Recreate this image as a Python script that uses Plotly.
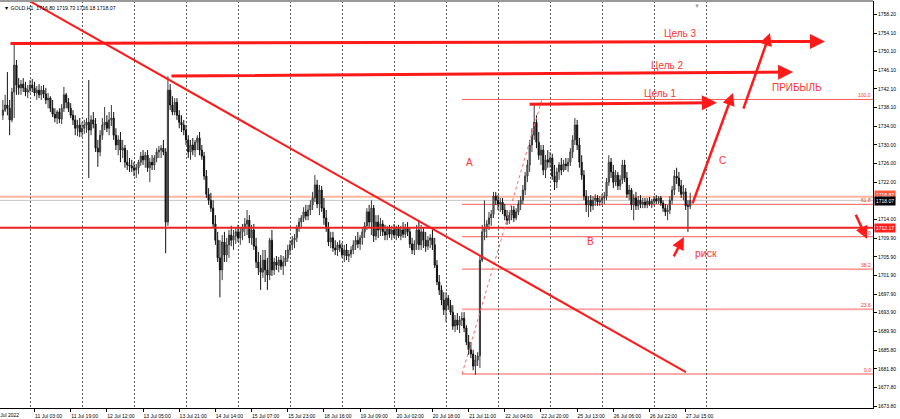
import plotly.graph_objects as go

# ---------------- data (GOLD, H1) ----------------
open_ = [1736.4, 1737.5, 1738.6, 1737.9, 1735.4, 1741.4, 1747.2, 1742.9, 1742.3, 1743.1, 1742.3, 1741.4,
 1741.8, 1742.9, 1742.3, 1741.2, 1741.8, 1740.8, 1741.8, 1741.0, 1739.7, 1740.1, 1737.9, 1736.6, 1735.8, 1737.1, 1735.6, 1737.9, 1740.8, 1739.2, 1737.9, 1736.4, 1735.4, 1733.6, 1734.3,
 1732.8, 1733.6, 1734.3, 1734.9, 1733.2, 1735.4, 1734.5, 1729.3, 1728.5, 1732.1, 1734.3, 1734.9, 1733.6, 1735.4, 1735.8, 1732.1, 1730.0, 1731.1, 1728.9, 1729.3, 1726.3, 1725.7, 1725.5,
 1725.1, 1724.6, 1725.1, 1726.3, 1727.6, 1726.8, 1727.8, 1725.1, 1726.3, 1725.7, 1727.2, 1728.5, 1728.9, 1729.3, 1728.5, 1713.4, 1741.8, 1738.6, 1737.1, 1739.2, 1736.4, 1734.9, 1734.3,
 1733.2, 1731.1, 1728.5, 1730.0, 1728.9, 1730.6, 1731.5, 1728.9, 1727.6, 1723.3, 1719.4, 1718.1, 1716.4, 1713.0, 1709.5, 1705.7, 1703.1, 1709.1, 1706.3, 1708.5, 1710.6, 1709.5, 1710.4,
 1711.3, 1710.0, 1711.3, 1712.1, 1713.0, 1713.8, 1710.0, 1711.7, 1708.2, 1704.8, 1703.5, 1702.6, 1705.2, 1703.1, 1702.0, 1709.5, 1703.1, 1704.8, 1704.1, 1705.2, 1703.9, 1704.8, 1705.7,
 1707.4, 1708.5, 1709.5, 1710.0, 1712.1, 1713.4, 1714.3, 1715.6, 1714.7, 1716.0, 1717.1, 1718.6, 1721.4, 1717.3, 1720.3, 1716.4, 1714.3, 1712.1, 1709.1, 1710.0, 1707.8, 1707.4, 1708.5,
 1707.8, 1706.3, 1707.4, 1706.1, 1706.5, 1707.4, 1708.5, 1709.5, 1708.7, 1710.0, 1711.3, 1712.6, 1715.6, 1713.4, 1716.4, 1710.4, 1713.4, 1711.7, 1713.0, 1711.3, 1710.6, 1711.9, 1710.8,
 1711.7, 1710.6, 1712.1, 1710.4, 1711.7, 1710.8, 1712.1, 1711.3, 1708.7, 1707.4, 1708.7, 1711.7, 1708.5, 1711.3, 1709.5, 1708.2, 1709.5, 1710.0, 1708.5, 1704.1, 1700.5, 1698.8, 1696.6,
 1694.5, 1697.0, 1695.5, 1694.0, 1691.0, 1692.3, 1691.2, 1692.3, 1692.7, 1690.6, 1687.6, 1685.9, 1685.0, 1682.4, 1683.7, 1684.6, 1705.2, 1711.3, 1712.1, 1713.0, 1714.3, 1715.1, 1719.0,
 1718.1, 1717.3, 1717.7, 1716.0, 1714.7, 1713.8, 1714.9, 1716.0, 1714.3, 1715.6, 1717.3, 1718.1, 1720.3, 1723.3, 1725.7, 1730.0, 1732.1, 1734.9, 1730.6, 1727.8, 1728.9, 1724.6, 1726.8,
 1726.3, 1727.2, 1723.3, 1722.0, 1724.2, 1725.7, 1724.6, 1725.9, 1725.5, 1726.3, 1728.5, 1731.1, 1734.3, 1730.0, 1726.3, 1723.5, 1719.0, 1717.1, 1718.1, 1716.9, 1718.1, 1718.6, 1717.7,
 1718.1, 1718.6, 1719.0, 1722.0, 1726.3, 1724.2, 1722.0, 1723.5, 1721.2, 1722.5, 1725.7, 1722.9, 1719.4, 1720.3, 1717.1, 1718.6, 1716.9, 1718.1, 1717.3, 1717.7, 1717.1, 1717.9, 1717.3,
 1717.9, 1718.4, 1717.9, 1718.6, 1717.5, 1716.4, 1715.6, 1716.0, 1718.1, 1720.3, 1723.3, 1722.9, 1721.2, 1719.4, 1719.9, 1716.9, 1716.80]

high = [1739.7, 1740.8, 1745.7, 1739.7, 1742.3, 1751.7, 1748.3, 1744.4, 1744.0, 1744.4, 1743.6, 1742.9,
 1744.0, 1744.2, 1743.6, 1742.7, 1743.1, 1742.7, 1742.9, 1742.3, 1741.2, 1740.5, 1739.7, 1737.9, 1737.5, 1737.9, 1738.8, 1742.5, 1741.2, 1740.1, 1739.0, 1737.5, 1736.4, 1735.4, 1735.8,
 1734.9, 1735.4, 1735.8, 1744.0, 1736.4, 1737.1, 1735.8, 1731.1, 1733.2, 1735.8, 1738.2, 1736.4, 1737.1, 1738.6, 1737.1, 1733.6, 1732.1, 1732.8, 1731.1, 1730.0, 1728.9, 1727.2, 1726.8,
 1726.3, 1725.9, 1726.8, 1728.5, 1728.9, 1728.5, 1728.9, 1727.2, 1727.8, 1727.8, 1729.3, 1729.8, 1730.0, 1731.1, 1729.3, 1744.8, 1743.1, 1740.5, 1740.1, 1740.1, 1737.5, 1736.4, 1735.4,
 1734.3, 1732.1, 1731.1, 1731.5, 1731.1, 1732.1, 1732.8, 1730.0, 1728.5, 1724.6, 1720.7, 1719.7, 1718.1, 1714.9, 1711.3, 1709.5, 1710.6, 1711.3, 1710.0, 1711.7, 1712.6, 1711.7, 1712.1,
 1712.8, 1712.1, 1713.0, 1714.3, 1716.0, 1714.9, 1712.8, 1713.0, 1710.0, 1707.0, 1706.3, 1707.4, 1707.4, 1705.7, 1710.0, 1711.7, 1705.7, 1706.1, 1705.9, 1706.3, 1706.1, 1707.4, 1708.5,
 1709.5, 1710.4, 1710.8, 1712.8, 1714.3, 1714.9, 1716.6, 1717.1, 1717.1, 1718.1, 1719.9, 1723.5, 1722.5, 1721.4, 1721.2, 1718.6, 1716.0, 1713.4, 1711.3, 1711.3, 1709.5, 1709.1, 1709.5,
 1708.9, 1708.5, 1708.7, 1707.4, 1708.2, 1709.5, 1710.4, 1711.3, 1710.6, 1712.1, 1713.4, 1716.4, 1717.1, 1718.1, 1717.1, 1714.9, 1714.9, 1714.3, 1713.8, 1712.8, 1712.6, 1712.8, 1712.6,
 1713.0, 1712.6, 1712.8, 1712.6, 1713.4, 1713.0, 1713.4, 1712.1, 1710.0, 1709.5, 1712.8, 1713.8, 1712.8, 1712.1, 1711.3, 1710.4, 1710.8, 1711.7, 1710.0, 1705.2, 1702.0, 1699.8, 1698.3,
 1698.3, 1697.7, 1696.6, 1695.5, 1693.4, 1693.8, 1693.2, 1694.0, 1694.0, 1691.2, 1689.1, 1687.6, 1685.9, 1684.8, 1685.4, 1706.3, 1712.8, 1718.1, 1713.8, 1715.6, 1716.0, 1719.9, 1719.9,
 1719.2, 1718.6, 1718.6, 1717.3, 1716.0, 1715.6, 1716.9, 1716.9, 1716.4, 1718.1, 1719.0, 1721.4, 1724.2, 1726.8, 1731.1, 1733.6, 1738.6, 1736.4, 1732.8, 1730.0, 1730.0, 1727.8, 1728.9,
 1728.5, 1728.1, 1725.7, 1725.1, 1726.3, 1727.2, 1726.8, 1727.2, 1727.2, 1729.3, 1732.1, 1735.8, 1735.4, 1731.5, 1727.8, 1724.6, 1720.3, 1719.0, 1719.2, 1719.0, 1719.4, 1719.2, 1719.0,
 1719.4, 1719.9, 1722.9, 1727.8, 1727.2, 1725.7, 1724.6, 1724.2, 1723.5, 1726.8, 1726.8, 1724.2, 1721.4, 1720.7, 1719.4, 1719.9, 1719.0, 1719.2, 1718.6, 1718.6, 1718.6, 1718.8, 1718.4,
 1719.0, 1719.2, 1719.0, 1719.0, 1718.1, 1717.3, 1717.1, 1719.0, 1721.2, 1724.6, 1725.1, 1724.2, 1722.5, 1721.4, 1720.7, 1718.1, 1719.73]

low = [1735.4, 1737.1, 1736.4, 1732.1, 1734.9, 1735.8, 1740.8, 1740.8, 1740.8, 1741.4, 1740.5, 1740.1,
 1741.2, 1741.4, 1740.5, 1739.7, 1740.1, 1739.7, 1740.1, 1738.8, 1737.9, 1737.1, 1736.0, 1734.9, 1734.5, 1734.7, 1734.5, 1737.1, 1737.9, 1737.1, 1735.8, 1734.3, 1732.1, 1731.9, 1731.7,
 1731.7, 1732.4, 1732.6, 1722.9, 1732.1, 1733.6, 1728.5, 1725.3, 1727.6, 1731.1, 1733.2, 1732.8, 1732.1, 1734.1, 1731.1, 1728.9, 1727.8, 1726.3, 1727.2, 1725.1, 1724.6, 1724.2, 1724.2,
 1723.3, 1722.9, 1723.7, 1725.5, 1725.7, 1725.1, 1724.2, 1722.0, 1724.6, 1724.6, 1726.3, 1727.2, 1727.2, 1727.8, 1706.7, 1712.6, 1737.5, 1736.4, 1736.4, 1735.4, 1733.6, 1732.8, 1732.1,
 1730.0, 1727.2, 1726.8, 1727.8, 1727.4, 1728.9, 1727.8, 1726.8, 1722.5, 1718.6, 1717.1, 1715.6, 1712.1, 1708.5, 1704.8, 1697.2, 1700.9, 1704.8, 1704.8, 1705.7, 1708.2, 1707.4, 1708.7,
 1709.1, 1708.5, 1709.5, 1710.4, 1710.6, 1708.9, 1708.5, 1707.4, 1703.5, 1702.0, 1698.8, 1701.4, 1700.5, 1698.8, 1700.9, 1701.8, 1702.0, 1703.1, 1702.6, 1703.1, 1702.0, 1703.9, 1704.8,
 1706.3, 1707.4, 1707.8, 1709.1, 1711.3, 1712.1, 1713.4, 1713.8, 1713.8, 1714.9, 1716.0, 1717.7, 1716.4, 1714.9, 1715.6, 1712.8, 1711.3, 1708.2, 1707.8, 1707.0, 1706.3, 1706.1, 1707.0,
 1705.7, 1704.8, 1705.2, 1704.8, 1705.7, 1706.5, 1707.4, 1707.8, 1707.4, 1708.5, 1710.0, 1711.7, 1712.1, 1710.6, 1709.1, 1709.5, 1710.0, 1710.4, 1710.4, 1709.5, 1709.5, 1710.0, 1709.5,
 1710.0, 1709.5, 1710.0, 1709.5, 1710.0, 1710.0, 1710.4, 1707.8, 1706.5, 1706.3, 1707.4, 1707.4, 1707.4, 1707.8, 1707.0, 1707.4, 1707.8, 1707.4, 1703.5, 1699.8, 1697.7, 1695.5, 1693.4,
 1691.9, 1694.5, 1693.4, 1690.2, 1689.7, 1690.2, 1689.5, 1691.0, 1689.7, 1686.9, 1684.8, 1684.1, 1681.5, 1680.5, 1682.4, 1682.0, 1704.8, 1709.5, 1710.0, 1711.7, 1712.6, 1714.3, 1717.1,
 1716.0, 1715.6, 1715.1, 1713.8, 1712.8, 1713.0, 1713.8, 1713.4, 1713.8, 1714.9, 1716.0, 1717.3, 1719.2, 1722.0, 1724.2, 1728.5, 1731.1, 1729.3, 1726.8, 1725.7, 1723.5, 1722.9, 1725.1,
 1725.1, 1722.5, 1720.3, 1720.7, 1722.5, 1723.5, 1724.2, 1724.6, 1724.2, 1725.5, 1727.2, 1730.0, 1728.9, 1725.1, 1722.5, 1718.1, 1715.6, 1714.5, 1715.6, 1716.0, 1716.9, 1716.9, 1716.9,
 1717.1, 1717.3, 1718.1, 1721.2, 1722.9, 1720.7, 1721.2, 1720.3, 1720.3, 1721.6, 1722.0, 1718.6, 1718.1, 1716.0, 1713.8, 1716.0, 1716.0, 1716.4, 1716.4, 1716.4, 1716.4, 1716.9, 1716.4,
 1716.9, 1717.3, 1717.3, 1716.9, 1715.6, 1714.7, 1713.8, 1715.1, 1717.3, 1719.2, 1721.6, 1719.9, 1718.6, 1718.1, 1716.0, 1711.3, 1716.18]

close = [1737.5, 1738.6, 1737.9, 1735.4, 1741.4, 1747.2, 1742.9, 1742.3, 1743.1, 1742.3, 1741.4, 1741.8,
 1742.9, 1742.3, 1741.2, 1741.8, 1740.8, 1741.8, 1741.0, 1739.7, 1740.1, 1737.9, 1736.6, 1735.8, 1737.1, 1735.6, 1737.9, 1740.8, 1739.2, 1737.9, 1736.4, 1735.4, 1733.6, 1734.3, 1732.8,
 1733.6, 1734.3, 1734.9, 1733.2, 1735.4, 1734.5, 1729.3, 1728.5, 1732.1, 1734.3, 1734.9, 1733.6, 1735.4, 1735.8, 1732.1, 1730.0, 1731.1, 1728.9, 1729.3, 1726.3, 1725.7, 1725.5, 1725.1,
 1724.6, 1725.1, 1726.3, 1727.6, 1726.8, 1727.8, 1725.1, 1726.3, 1725.7, 1727.2, 1728.5, 1728.9, 1729.3, 1728.5, 1713.4, 1741.8, 1738.6, 1737.1, 1739.2, 1736.4, 1734.9, 1734.3, 1733.2,
 1731.1, 1728.5, 1730.0, 1728.9, 1730.6, 1731.5, 1728.9, 1727.6, 1723.3, 1719.4, 1718.1, 1716.4, 1713.0, 1709.5, 1705.7, 1703.1, 1709.1, 1706.3, 1708.5, 1710.6, 1709.5, 1710.4, 1711.3,
 1710.0, 1711.3, 1712.1, 1713.0, 1713.8, 1710.0, 1711.7, 1708.2, 1704.8, 1703.5, 1702.6, 1705.2, 1703.1, 1702.0, 1709.5, 1703.1, 1704.8, 1704.1, 1705.2, 1703.9, 1704.8, 1705.7, 1707.4,
 1708.5, 1709.5, 1710.0, 1712.1, 1713.4, 1714.3, 1715.6, 1714.7, 1716.0, 1717.1, 1718.6, 1721.4, 1717.3, 1720.3, 1716.4, 1714.3, 1712.1, 1709.1, 1710.0, 1707.8, 1707.4, 1708.5, 1707.8,
 1706.3, 1707.4, 1706.1, 1706.5, 1707.4, 1708.5, 1709.5, 1708.7, 1710.0, 1711.3, 1712.6, 1715.6, 1713.4, 1716.4, 1710.4, 1713.4, 1711.7, 1713.0, 1711.3, 1710.6, 1711.9, 1710.8, 1711.7,
 1710.6, 1712.1, 1710.4, 1711.7, 1710.8, 1712.1, 1711.3, 1708.7, 1707.4, 1708.7, 1711.7, 1708.5, 1711.3, 1709.5, 1708.2, 1709.5, 1710.0, 1708.5, 1704.1, 1700.5, 1698.8, 1696.6, 1694.5,
 1697.0, 1695.5, 1694.0, 1691.0, 1692.3, 1691.2, 1692.3, 1692.7, 1690.6, 1687.6, 1685.9, 1685.0, 1682.4, 1683.7, 1684.6, 1705.2, 1711.3, 1712.1, 1713.0, 1714.3, 1715.1, 1719.0, 1718.1,
 1717.3, 1717.7, 1716.0, 1714.7, 1713.8, 1714.9, 1716.0, 1714.3, 1715.6, 1717.3, 1718.1, 1720.3, 1723.3, 1725.7, 1730.0, 1732.1, 1734.9, 1730.6, 1727.8, 1728.9, 1724.6, 1726.8, 1726.3,
 1727.2, 1723.3, 1722.0, 1724.2, 1725.7, 1724.6, 1725.9, 1725.5, 1726.3, 1728.5, 1731.1, 1734.3, 1730.0, 1726.3, 1723.5, 1719.0, 1717.1, 1718.1, 1716.9, 1718.1, 1718.6, 1717.7, 1718.1,
 1718.6, 1719.0, 1722.0, 1726.3, 1724.2, 1722.0, 1723.5, 1721.2, 1722.5, 1725.7, 1722.9, 1719.4, 1720.3, 1717.1, 1718.6, 1716.9, 1718.1, 1717.3, 1717.7, 1717.1, 1717.9, 1717.3, 1717.9,
 1718.4, 1717.9, 1718.6, 1717.5, 1716.4, 1715.6, 1716.0, 1718.1, 1720.3, 1723.3, 1722.9, 1721.2, 1719.4, 1719.9, 1716.9, 1716.8, 1718.07]

time_labels = ["11 Jul 03:00", "11 Jul 19:00", "12 Jul 12:00", "13 Jul 05:00", "13 Jul 21:00",
               "14 Jul 14:00", "15 Jul 07:00", "15 Jul 23:00", "18 Jul 16:00", "19 Jul 09:00",
               "20 Jul 02:00", "20 Jul 18:00", "21 Jul 11:00", "22 Jul 04:00", "22 Jul 20:00",
               "25 Jul 13:00", "26 Jul 06:00", "26 Jul 22:00", "27 Jul 15:00"]
first_label_bar = 14      # bar index of "11 Jul 03:00"
label_step = 16           # bars between time labels
day_start_bars = [12, 35, 58, 81, 104, 127, 150, 173, 196, 219, 242, 265, 288, 311]

price_ticks = [1758.20, 1754.10, 1750.10, 1746.10, 1742.10, 1738.10, 1734.00, 1730.00, 1726.00,
               1722.00, 1714.00, 1709.90, 1705.90, 1701.90, 1697.90, 1693.90, 1689.90, 1685.80,
               1681.80, 1677.80, 1673.80]

fib_low, fib_high = 1680.7, 1739.8
fib_levels = [0.0, 23.6, 38.2, 50.0, 61.8, 100.0]
bid_price, ask_price, level_price = 1718.07, 1718.87, 1712.17

bars = list(range(len(close)))
X_RANGE = [-1.27, 384.85]
Y_RANGE = [1673.37, 1761.0]

RED = "#ff1a1a"
TXT_RED = "#ff3333"
FONT = "Liberation Sans, Arial, sans-serif"

fig = go.Figure(go.Candlestick(
    x=bars, open=open_, high=high, low=low, close=close,
    increasing=dict(line=dict(color="#3a3a3a", width=1), fillcolor="#8a8a8a"),
    decreasing=dict(line=dict(color="#111111", width=1), fillcolor="#111111"),
    whiskerwidth=0, hoverinfo="skip", showlegend=False))

shapes = []
# horizontal price lines
shapes.append(dict(type="line", xref="paper", x0=0, x1=1, yref="y", y0=ask_price, y1=ask_price,
                   line=dict(color="#ffb49c", width=2), layer="below"))
shapes.append(dict(type="line", xref="paper", x0=0, x1=1, yref="y", y0=bid_price, y1=bid_price,
                   line=dict(color="#c8c8c8", width=1), layer="below"))
shapes.append(dict(type="line", xref="paper", x0=0, x1=1, yref="y", y0=level_price, y1=level_price,
                   line=dict(color="#ee2222", width=2)))
# fibonacci
fib_x0, fib_x1 = 203.1, 238.4
for lv in fib_levels:
    p = fib_low + (fib_high - fib_low) * lv / 100.0
    pale = lv in (0.0, 23.6)
    shapes.append(dict(type="line", xref="x", x0=fib_x0, x1=X_RANGE[1], yref="y", y0=p, y1=p,
                       line=dict(color="#ffaaaa" if pale else "#ff5a5a", width=2 if pale else 1),
                       layer="below"))
shapes.append(dict(type="line", xref="x", yref="y", x0=fib_x0, y0=fib_low, x1=fib_x1, y1=fib_high,
                   line=dict(color="#ff6a6a", width=1, dash="dot")))
# trend line
shapes.append(dict(type="line", xref="x", yref="y", x0=11.1, y0=1761.2, x1=302.1, y1=1681.1,
                   line=dict(color=RED, width=2)))
# top border
shapes.append(dict(type="line", xref="paper", yref="paper", x0=0, x1=1, y0=1, y1=1,
                   line=dict(color="#9a9a9a", width=2)))

ann = []
def arrow(x0, y0, x1, y1, w=3):
    ann.append(dict(x=x1, y=y1, ax=x0, ay=y0, xref="x", yref="y", axref="x", ayref="y",
                    text="", showarrow=True, arrowhead=2, arrowsize=1.0, arrowwidth=w,
                    arrowcolor=RED, standoff=0, startstandoff=0))

arrow(2.7, 1751.85, 363.6, 1752.3)      # Цель 3
arrow(73.9, 1744.85, 349.5, 1745.7)     # Цель 2
arrow(232.3, 1738.75, 315.8, 1739.1)    # Цель 1
arrow(327.3, 1737.5, 339.3, 1754.1, 2.5)
arrow(304.8, 1717.1, 322.9, 1741.2, 2.5)
arrow(296.4, 1705.7, 301.2, 1710.2, 2.5)
arrow(376.9, 1715.3, 382.2, 1709.8, 2.5)

def label(t, x, y, size=10):
    ann.append(dict(x=x, y=y, xref="x", yref="y", text=t, showarrow=False,
                    font=dict(family=FONT, size=size, color=TXT_RED)))

label("Цель 3", 299.5, 1754.1)
label("Цель 2", 293.7, 1747.2)
label("Цель 1", 290.6, 1741.0)
label("ПРИБЫЛЬ", 351.2, 1742.3)
label("A", 206.6, 1726.3)
label("B", 259.7, 1709.3)
label("C", 318.5, 1726.6)
label("риск", 311.0, 1706.7, 10.5)

for lv in fib_levels:
    p = fib_low + (fib_high - fib_low) * lv / 100.0
    ann.append(dict(x=1, y=p, xref="paper", yref="y", xanchor="right", yanchor="bottom",
                    text=f"{lv:.1f}", showarrow=False, yshift=-1,
                    font=dict(family=FONT, size=5, color="#ff3030")))

# header
ann.append(dict(x=0.002, y=1, xref="paper", yref="paper", xanchor="left", yanchor="top", yshift=-2,
                text=f"▼ GOLD,H1  {open_[-1]:.2f} {high[-1]:.2f} {low[-1]:.2f} {close[-1]:.2f}",
                showarrow=False, font=dict(family=FONT, size=5.2, color="#000")))
ann.append(dict(x=307.2, y=1, xref="x", yref="paper", yanchor="top", text="▼", showarrow=False,
                font=dict(family=FONT, size=6, color="#a0a0a0")))
ann.append(dict(x=21 / 873, y=-0.005, xref="paper", yref="paper", xanchor="right", yanchor="top",
                text="8 Jul 2022", showarrow=False, font=dict(family=FONT, size=5, color="#000")))

# price boxes on the right scale
for price, bg, ys in ((ask_price, "#ff5a3c", 2), (bid_price, "#000000", -1), (level_price, "#ff2020", 0)):
    ann.append(dict(x=1, y=price, xref="paper", yref="y", xanchor="left", yanchor="middle",
                    text=f"{price:.2f}", showarrow=False, bgcolor=bg, borderpad=1, xshift=1,
                    yshift=ys, font=dict(family=FONT, size=5, color="#ffffff")))

fig.update_layout(
    width=900, height=419, margin=dict(l=0, r=27, t=1, b=11),
    paper_bgcolor="white", plot_bgcolor="white", shapes=shapes, annotations=ann,
    hovermode=False, showlegend=False,
    xaxis=dict(range=X_RANGE, rangeslider=dict(visible=False), showgrid=False, zeroline=False,
               showline=True, linecolor="#000", linewidth=1,
               tickvals=[first_label_bar + label_step * i for i in range(len(time_labels))],
               ticktext=time_labels, ticks="outside", ticklen=3, tickcolor="#000",
               tickfont=dict(family=FONT, size=5, color="#000"), ticklabelshift=14,
               minor=dict(tickvals=day_start_bars, showgrid=True, gridcolor="#5a5a5a",
                          griddash="2px,2px", gridwidth=1, ticks="")),
    yaxis=dict(range=Y_RANGE, side="right", showgrid=False, zeroline=False, showline=True,
               linecolor="#000", linewidth=1, tickvals=price_ticks,
               ticktext=[f"{v:.2f}" for v in price_ticks], ticks="outside", ticklen=3,
               tickcolor="#000", tickfont=dict(family=FONT, size=5, color="#000")),
)

fig.write_html("out.html", config={"displayModeBar": False},
               post_script="document.body.style.margin='0';document.body.style.overflow='hidden';")
